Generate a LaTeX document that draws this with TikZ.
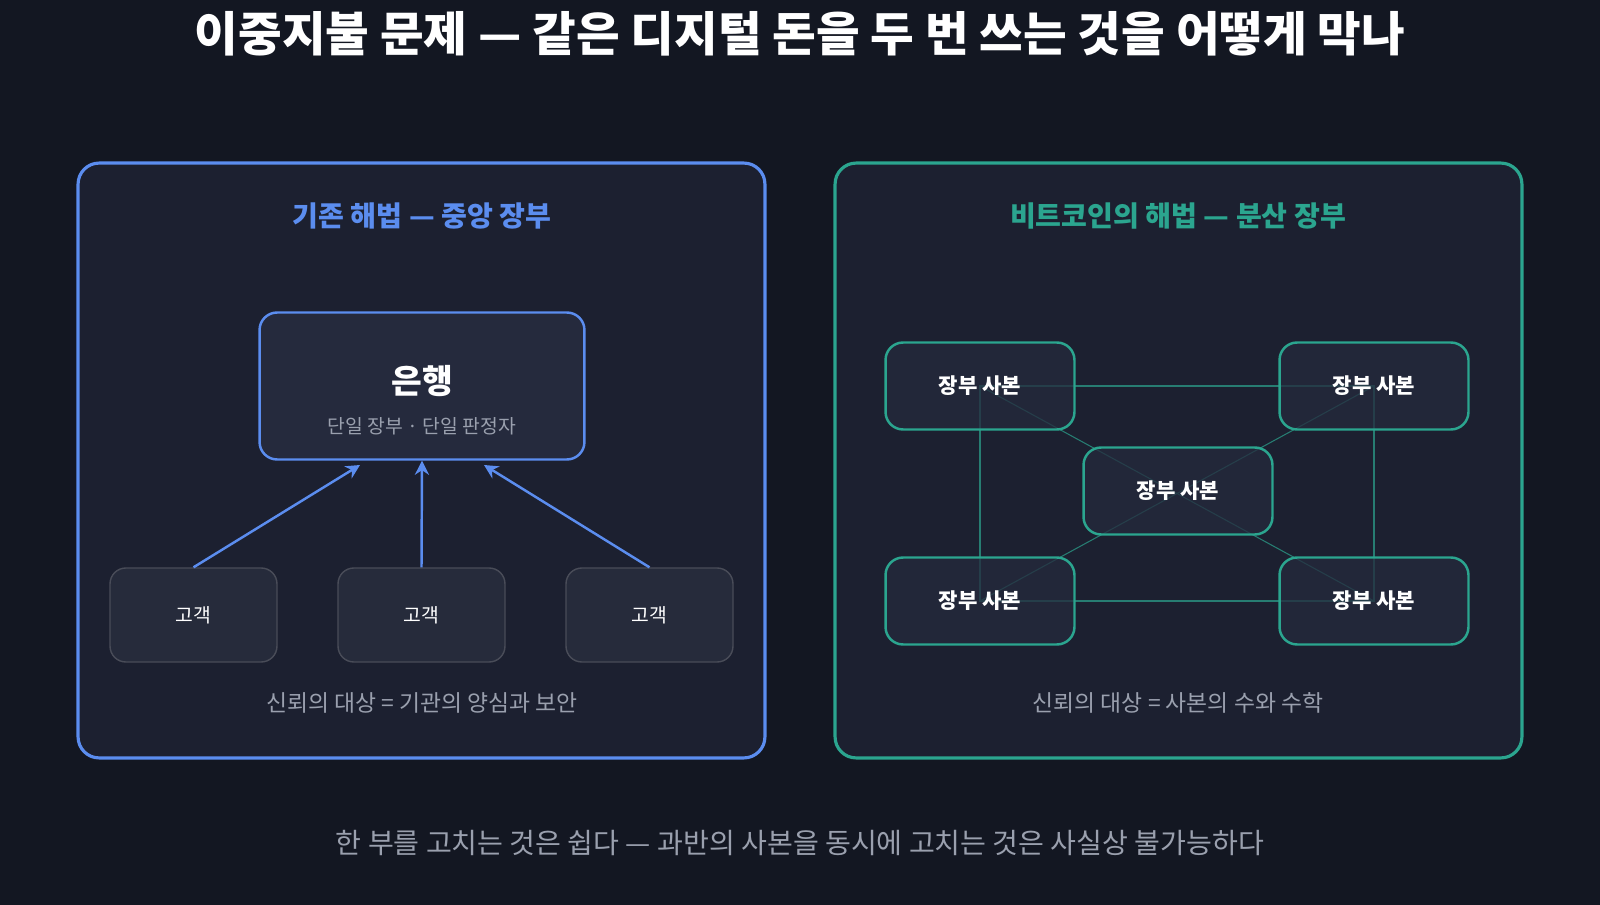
\documentclass[tikz,border=0pt]{standalone}
\usepackage{fontspec}
\setmainfont{Noto Sans CJK KR}
\usepackage{tikz}
\usetikzlibrary{arrows.meta, positioning, backgrounds}
\definecolor{bgdark}{HTML}{131722}
\definecolor{panelbg}{HTML}{1C2030}
\definecolor{boxbg}{HTML}{252A3D}
\definecolor{custbg}{HTML}{262B3B}
\definecolor{blueline}{HTML}{5B8DEF}
\definecolor{tealline}{HTML}{2BA58F}
\definecolor{greytext}{HTML}{9AA0AE}
\tikzset{
    panel/.style={
        rectangle,
        rounded corners=12pt,
        line width=1.8pt,
        fill=panelbg,
        minimum width=13.74cm,
        minimum height=11.9cm
    },
    bank/.style={
        rectangle,
        draw=blueline,
        line width=1.4pt,
        rounded corners=10pt,
        fill=boxbg,
        minimum width=6.5cm,
        minimum height=2.94cm
    },
    customer/.style={
        rectangle,
        draw=gray!40!boxbg,
        line width=0.8pt,
        rounded corners=9pt,
        fill=custbg,
        minimum width=3.34cm,
        minimum height=1.88cm,
        text=white,
        font=\fontsize{11}{13}\selectfont
    },
    ledger/.style={
        rectangle,
        draw=tealline,
        line width=1.4pt,
        rounded corners=10pt,
        fill=boxbg,
        fill opacity=0.75,
        text opacity=1,
        minimum width=3.78cm,
        minimum height=1.74cm,
        text=white,
        font=\bfseries\fontsize{12}{14}\selectfont
    },
    wire/.style={
        draw=blueline,
        line width=1.4pt,
        -{Stealth[length=8pt,width=8pt]}
    },
    link/.style={
        draw=tealline!70!panelbg,
        line width=0.6pt
    },
    note/.style={
        text=greytext,
        font=\fontsize{13}{15}\selectfont
    }
}
\begin{document}
\begin{tikzpicture}[x=0.02cm, y=-0.02cm]

% background
\fill[bgdark] (0,0) rectangle (1600,905);
\path[use as bounding box] (0,0) rectangle (1600,905);

% title
\node[text=white, font=\bfseries\fontsize{27}{30}\selectfont] (title) at (800,34) {이중지불 문제 — 같은 디지털 돈을 두 번 쓰는 것을 어떻게 막나};

% panels
\node[panel, draw=blueline] (leftpanel) at (421.5,460.5) {};
\node[panel, draw=tealline] (rightpanel) at (1178.5,460.5) {};

% left: central ledger
\node[text=blueline, font=\bfseries\fontsize{16}{18}\selectfont] (lefthead) at (422,216) {기존 해법 — 중앙 장부};
\node[bank] (bank) at (422,386) {};
\node[text=white, font=\bfseries\fontsize{19}{21}\selectfont] (banklabel) at (422,381) {은행};
\node[text=greytext, font=\fontsize{11}{13}\selectfont] (banksub) at (422,426) {단일 장부 · 단일 판정자};

\node[customer] (c1) at (193.5,615) {고객};
\node[customer] (c2) at (421.5,615) {고객};
\node[customer] (c3) at (649.5,615) {고객};

\draw[wire] (c1.north) -- (360,465);
\draw[wire] (c2.north) -- (bank.south);
\draw[wire] (c3.north) -- (484,465);

\node[note] (leftnote) at (422,703) {신뢰의 대상 = 기관의 양심과 보안};

% right: distributed ledger
\node[text=tealline, font=\bfseries\fontsize{16}{18}\selectfont] (righthead) at (1178,216) {비트코인의 해법 — 분산 장부};

\coordinate (ptl) at (980,386);
\coordinate (ptr) at (1374,386);
\coordinate (pc) at (1178,491);
\coordinate (pbl) at (980,601);
\coordinate (pbr) at (1374,601);

\draw[link] (ptl) -- (ptr) -- (pbr) -- (pbl) -- cycle;
\draw[link] (ptl) -- (pbr);
\draw[link] (ptr) -- (pbl);

\node[ledger] (ltl) at (ptl) {장부 사본};
\node[ledger] (ltr) at (ptr) {장부 사본};
\node[ledger] (lc) at (pc) {장부 사본};
\node[ledger] (lbl) at (pbl) {장부 사본};
\node[ledger] (lbr) at (pbr) {장부 사본};

\node[note] (rightnote) at (1178,703) {신뢰의 대상 = 사본의 수와 수학};

% caption
\node[text=greytext, font=\fontsize{16}{18}\selectfont] (caption) at (800,843) {한 부를 고치는 것은 쉽다 — 과반의 사본을 동시에 고치는 것은 사실상 불가능하다};

\end{tikzpicture}
\end{document}
